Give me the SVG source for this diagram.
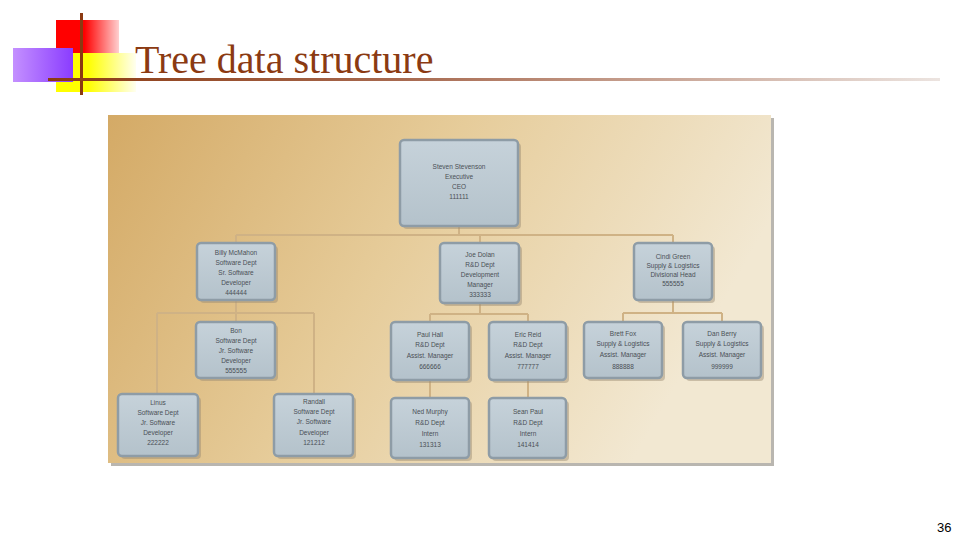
<svg xmlns="http://www.w3.org/2000/svg" width="960" height="540" viewBox="0 0 960 540">
<defs>
<linearGradient id="gRed" x1="0" y1="0" x2="1" y2="0"><stop offset="0" stop-color="#ff0000"/><stop offset="0.45" stop-color="#ff0000"/><stop offset="1" stop-color="#ffd0d0"/></linearGradient>
<linearGradient id="gYel" x1="0" y1="0" x2="1" y2="0"><stop offset="0" stop-color="#ffff00"/><stop offset="0.4" stop-color="#ffff00"/><stop offset="1" stop-color="#fffff0"/></linearGradient>
<linearGradient id="gPur" x1="0" y1="0" x2="1" y2="0"><stop offset="0" stop-color="#c490ff"/><stop offset="1" stop-color="#8a3cff"/></linearGradient>
<linearGradient id="gLine" x1="0" y1="0" x2="1" y2="0"><stop offset="0" stop-color="#8b3a12"/><stop offset="0.4" stop-color="#a86a50"/><stop offset="1" stop-color="#ece4e0"/></linearGradient>
<linearGradient id="gBg" x1="0" y1="0" x2="1" y2="0.3"><stop offset="0" stop-color="#d4aa66"/><stop offset="0.5" stop-color="#e6cc9a"/><stop offset="1" stop-color="#f2e8d2"/></linearGradient>
<linearGradient id="gNode" x1="0" y1="0" x2="0" y2="1"><stop offset="0" stop-color="#c6d2da"/><stop offset="1" stop-color="#b4c2cb"/></linearGradient>
<style>
.title{font-family:"Liberation Serif","Times New Roman",serif;font-size:40px;fill:#8b3a12}
.pg{font-family:"Liberation Sans",Arial,sans-serif;font-size:13px;fill:#000}
.box{fill:url(#gNode);stroke:#8e9ca6;stroke-width:2.5}
.sh{fill:#9a8a70;opacity:0.45}
.t{font-family:"Liberation Sans",Arial,sans-serif;font-size:6.5px;fill:#4a4f55;text-anchor:middle}
.c{stroke:#cfb285;stroke-width:2;fill:none}
</style>
</defs>
<rect width="960" height="540" fill="#ffffff"/>
<!-- header decoration -->
<rect x="56" y="20" width="63" height="34" fill="url(#gRed)"/>
<rect x="56" y="53" width="80" height="39" fill="url(#gYel)"/>
<rect x="13" y="48" width="60" height="34" fill="url(#gPur)"/>
<rect x="80" y="13" width="3" height="82" fill="#8b3a12"/>
<rect x="48" y="78" width="892" height="3" fill="url(#gLine)"/>
<text class="title" x="135" y="73">Tree data structure</text>
<text class="pg" x="937" y="532">36</text>
<!-- picture background -->
<rect x="111" y="118" width="663" height="348" fill="#8a857c" opacity="0.6"/>
<rect x="108" y="115" width="663" height="348" fill="url(#gBg)"/>
<g id="connectors">
<path class="c" d="M459 226V235M236 235H673M236 235V243M480 235V243M673 235V243"/>
<path class="c" d="M236 300V313M157 313H314M157 313V394M236 313V322M314 313V394"/>
<path class="c" d="M480 303V314M430 314H528M430 314V322M528 314V322"/>
<path class="c" d="M673 300V313M623 313H722M623 313V322M722 313V322"/>
<path class="c" d="M430 380V398M528 380V398"/>
</g>
<g id="ceo"><rect class="sh" x="403" y="143" width="118" height="86" rx="4"/><rect class="box" x="400" y="140" width="118" height="86" rx="4"/>
<text class="t" x="459" y="169">Steven Stevenson</text><text class="t" x="459" y="179">Executive</text><text class="t" x="459" y="189">CEO</text><text class="t" x="459" y="199">111111</text></g>
<g id="billy"><rect class="sh" x="200" y="246" width="78" height="57" rx="4"/><rect class="box" x="197" y="243" width="78" height="57" rx="4"/>
<text class="t" x="236" y="255">Billy McMahon</text><text class="t" x="236" y="265">Software Dept</text><text class="t" x="236" y="275">Sr. Software</text><text class="t" x="236" y="285">Developer</text><text class="t" x="236" y="295">444444</text></g>
<g id="joe"><rect class="sh" x="443" y="246" width="79" height="60" rx="4"/><rect class="box" x="440" y="243" width="79" height="60" rx="4"/>
<text class="t" x="480" y="257">Joe Dolan</text><text class="t" x="480" y="267">R&amp;D Dept</text><text class="t" x="480" y="277">Development</text><text class="t" x="480" y="287">Manager</text><text class="t" x="480" y="297">333333</text></g>
<g id="cindi"><rect class="sh" x="637" y="246" width="78" height="57" rx="4"/><rect class="box" x="634" y="243" width="78" height="57" rx="4"/>
<text class="t" x="673" y="259">Cindi Green</text><text class="t" x="673" y="268">Supply &amp; Logistics</text><text class="t" x="673" y="277">Divisional Head</text><text class="t" x="673" y="286">555555</text></g>
<g id="bon"><rect class="sh" x="199" y="325" width="79" height="56" rx="4"/><rect class="box" x="196" y="322" width="79" height="56" rx="4"/>
<text class="t" x="236" y="333">Bon</text><text class="t" x="236" y="343">Software Dept</text><text class="t" x="236" y="353">Jr. Software</text><text class="t" x="236" y="363">Developer</text><text class="t" x="236" y="373">555555</text></g>
<g id="paul"><rect class="sh" x="394" y="325" width="78" height="58" rx="4"/><rect class="box" x="391" y="322" width="78" height="58" rx="4"/>
<text class="t" x="430" y="337">Paul Hall</text><text class="t" x="430" y="347">R&amp;D Dept</text><text class="t" x="430" y="358">Assist. Manager</text><text class="t" x="430" y="369">666666</text></g>
<g id="eric"><rect class="sh" x="492" y="325" width="77" height="58" rx="4"/><rect class="box" x="489" y="322" width="77" height="58" rx="4"/>
<text class="t" x="528" y="337">Eric Reid</text><text class="t" x="528" y="347">R&amp;D Dept</text><text class="t" x="528" y="358">Assist. Manager</text><text class="t" x="528" y="369">777777</text></g>
<g id="brett"><rect class="sh" x="587" y="325" width="78" height="56" rx="4"/><rect class="box" x="584" y="322" width="78" height="56" rx="4"/>
<text class="t" x="623" y="336">Brett Fox</text><text class="t" x="623" y="346">Supply &amp; Logistics</text><text class="t" x="623" y="357">Assist. Manager</text><text class="t" x="623" y="369">888888</text></g>
<g id="dan"><rect class="sh" x="686" y="325" width="78" height="56" rx="4"/><rect class="box" x="683" y="322" width="78" height="56" rx="4"/>
<text class="t" x="722" y="336">Dan Berry</text><text class="t" x="722" y="346">Supply &amp; Logistics</text><text class="t" x="722" y="357">Assist. Manager</text><text class="t" x="722" y="369">999999</text></g>
<g id="linus"><rect class="sh" x="121" y="397" width="80" height="62" rx="4"/><rect class="box" x="118" y="394" width="80" height="62" rx="4"/>
<text class="t" x="158" y="405">Linus</text><text class="t" x="158" y="415">Software Dept</text><text class="t" x="158" y="425">Jr. Software</text><text class="t" x="158" y="435">Developer</text><text class="t" x="158" y="445">222222</text></g>
<g id="randall"><rect class="sh" x="277" y="397" width="79" height="62" rx="4"/><rect class="box" x="274" y="394" width="79" height="62" rx="4"/>
<text class="t" x="314" y="404">Randall</text><text class="t" x="314" y="414">Software Dept</text><text class="t" x="314" y="424">Jr. Software</text><text class="t" x="314" y="435">Developer</text><text class="t" x="314" y="445">121212</text></g>
<g id="ned"><rect class="sh" x="394" y="401" width="78" height="60" rx="4"/><rect class="box" x="391" y="398" width="78" height="60" rx="4"/>
<text class="t" x="430" y="414">Ned Murphy</text><text class="t" x="430" y="425">R&amp;D Dept</text><text class="t" x="430" y="436">Intern</text><text class="t" x="430" y="447">131313</text></g>
<g id="sean"><rect class="sh" x="492" y="401" width="77" height="60" rx="4"/><rect class="box" x="489" y="398" width="77" height="60" rx="4"/>
<text class="t" x="528" y="414">Sean Paul</text><text class="t" x="528" y="425">R&amp;D Dept</text><text class="t" x="528" y="436">Intern</text><text class="t" x="528" y="447">141414</text></g>
</svg>
